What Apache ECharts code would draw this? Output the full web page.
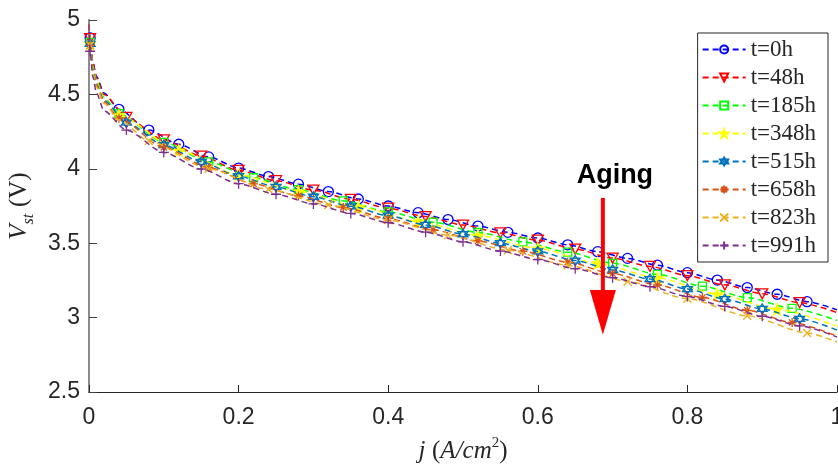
<!DOCTYPE html>
<html><head><meta charset="utf-8">
<script src="https://cdn.jsdelivr.net/npm/echarts@6/dist/echarts.min.js"></script>
<style>html,body{margin:0;padding:0;background:#fff}#c{width:838px;height:464px}</style>
</head><body><div id="c"></div>
<script>
// ---------------- data ----------------
const xTicks = [0, 0.2, 0.4, 0.6, 0.8, 1];
const yTicks = [2.5, 3, 3.5, 4, 4.5, 5];
const seriesNames = ['t=0h','t=48h','t=185h','t=348h','t=515h','t=658h','t=823h','t=991h'];

const j_0h = [0,0.0015,0.005,0.01,0.02,0.04,0.08,0.12,0.16,0.20,0.24,0.28,0.32,0.36,0.40,0.44,0.48,0.52,0.56,0.60,0.64,0.68,0.72,0.76,0.80,0.84,0.88,0.92,0.96,1.0];
const v_0h = [4.97,4.88,4.72,4.62,4.51,4.40,4.26,4.165,4.08,4.005,3.948,3.897,3.847,3.797,3.750,3.705,3.659,3.615,3.573,3.535,3.489,3.443,3.398,3.352,3.302,3.252,3.202,3.157,3.107,3.052];

const j_48h = [0,0.0015,0.005,0.01,0.02,0.05,0.10,0.15,0.20,0.25,0.30,0.35,0.40,0.45,0.50,0.55,0.60,0.65,0.70,0.75,0.80,0.85,0.90,0.95,1.0];
const v_48h = [4.97,4.875,4.71,4.61,4.50,4.345,4.195,4.085,3.99,3.92,3.857,3.795,3.735,3.679,3.622,3.569,3.52,3.46,3.40,3.344,3.282,3.22,3.16,3.10,3.034];

const j_185h = [0,0.0015,0.005,0.01,0.02,0.04,0.10,0.16,0.22,0.28,0.34,0.40,0.46,0.52,0.58,0.64,0.70,0.76,0.82,0.88,0.94,1.0];
const v_185h = [4.97,4.85,4.69,4.59,4.48,4.37,4.178,4.046,3.94,3.86,3.784,3.71,3.641,3.572,3.509,3.44,3.365,3.291,3.211,3.134,3.062,2.98];

const j_348h = [0,0.0015,0.005,0.01,0.02,0.04,0.12,0.20,0.28,0.36,0.44,0.52,0.60,0.68,0.76,0.84,0.92,1.0];
const v_348h = [4.97,4.84,4.68,4.58,4.47,4.36,4.123,3.96,3.848,3.744,3.647,3.551,3.465,3.365,3.266,3.158,3.055,2.942];

const j_515h = [0,0.0015,0.005,0.01,0.02,0.05,0.10,0.15,0.20,0.25,0.30,0.35,0.40,0.45,0.50,0.55,0.60,0.65,0.70,0.75,0.80,0.85,0.90,0.95,1.0];
const v_515h = [4.97,4.84,4.67,4.57,4.46,4.31,4.159,4.047,3.95,3.878,3.812,3.748,3.685,3.623,3.56,3.50,3.445,3.383,3.32,3.259,3.192,3.124,3.058,2.992,2.917];

const j_658h = [0,0.0015,0.005,0.01,0.02,0.04,0.10,0.16,0.22,0.28,0.34,0.40,0.46,0.52,0.58,0.64,0.70,0.76,0.82,0.88,0.94,1.0];
const v_658h = [4.97,4.83,4.66,4.56,4.45,4.34,4.144,4.008,3.899,3.818,3.74,3.665,3.59,3.515,3.446,3.373,3.295,3.219,3.135,3.049,2.967,2.875];

const j_823h = [0,0.0015,0.005,0.01,0.02,0.04,0.08,0.16,0.24,0.32,0.40,0.48,0.56,0.64,0.72,0.80,0.88,0.96,1.0];
const v_823h = [4.97,4.83,4.65,4.55,4.44,4.33,4.187,4.00,3.861,3.757,3.655,3.554,3.453,3.352,3.243,3.127,3.012,2.897,2.835];

const j_991h = [0,0.0015,0.005,0.01,0.02,0.05,0.10,0.15,0.20,0.25,0.30,0.35,0.40,0.45,0.50,0.55,0.60,0.65,0.70,0.75,0.80,0.85,0.90,0.95,1.0];
const v_991h = [4.97,4.79,4.62,4.51,4.39,4.26,4.11,3.998,3.90,3.829,3.764,3.70,3.638,3.574,3.509,3.447,3.39,3.329,3.268,3.208,3.142,3.075,3.009,2.944,2.87];

const seriesJ = [j_0h, j_48h, j_185h, j_348h, j_515h, j_658h, j_823h, j_991h];
const seriesV = [v_0h, v_48h, v_185h, v_348h, v_515h, v_658h, v_823h, v_991h];

// annotation (arrow) in data coordinates
const arrowJ = 0.687;
const arrowTopV = 3.804, arrowHeadV = 3.185, arrowTipV = 2.885;
const agingLabel = 'Aging';

// ---------------- styles ----------------
const STAR = 'path://M10,0L12.245,6.91L19.51,6.91L13.633,11.18L15.88,18.09L10,13.82L4.12,18.09L6.367,11.18L0.49,6.91L7.755,6.91Z';
const HEX = 'path://M10,0L18.66,15L1.34,15ZM10,20L1.34,5L18.66,5Z';
const AST = 'path://M10,0L10,20M0,10L20,10M3,3L17,17M17,3L3,17';
const XMK = 'path://M0,0L20,20M20,0L0,20';
const PLUS = 'path://M10,0L10,20M0,10L20,10';
const TRI = 'path://M0,0L20,0L10,17Z';
const styles = [
  {color:'#0000FF', symbol:'circle', size:10, fill:false, start:0.04, step:0.04},
  {color:'#FF0000', symbol:TRI, size:[11,10], fill:false, start:0.05, step:0.05},
  {color:'#00FF00', symbol:'rect', size:8, fill:false, start:0.04, step:0.06},
  {color:'#FFFF00', symbol:STAR, size:11, fill:true, start:0.04, step:0.08},
  {color:'#0072BD', symbol:HEX, size:10, fill:false, start:0.05, step:0.05},
  {color:'#D95319', symbol:AST, size:9, fill:false, start:0.04, step:0.06},
  {color:'#EDB120', symbol:XMK, size:8, fill:false, start:0.08, step:0.08},
  {color:'#7E2F8E', symbol:PLUS, size:10, fill:false, start:0.05, step:0.05}
];
function isMark(j, s) {
  if (Math.abs(j - 0.0015) < 1e-9) return true;
  if (j < s.start - 1e-9 || j > 0.999) return false;
  const k = (j - s.start) / s.step;
  return Math.abs(k - Math.round(k)) < 1e-6;
}

const series = seriesNames.map((name, i) => {
  const s = styles[i];
  const data = seriesJ[i].map((x, k) => {
    const item = {value: [x, seriesV[i][k]]};
    if (!isMark(x, s)) item.symbol = 'none';
    return item;
  });
  return {
    name, type: 'line', data,
    symbol: s.symbol, symbolSize: s.size, showAllSymbol: true,
    smooth: 0.25, smoothMonotone: 'x',
    lineStyle: {color: s.color, width: 1.5, type: [6, 4]},
    itemStyle: {color: s.fill ? s.color : 'rgba(0,0,0,0)', borderColor: s.color, borderWidth: 1.3},
    emphasis: {disabled: true},
    z: 2 + i
  };
});

const chart = echarts.init(document.getElementById('c'), null, {renderer: 'canvas'});
const sans = 'Liberation Sans, Arial, Helvetica, sans-serif';
const serif = 'Liberation Serif, Times New Roman, serif';
chart.setOption({
  animation: false,
  backgroundColor: '#fff',
  grid: {left: 89, right: 1, top: 20, bottom: 72, containLabel: false, outerBoundsMode: 'none'},
  xAxis: {
    type: 'value', min: xTicks[0], max: xTicks[xTicks.length-1], interval: 0.2,
    axisLine: {show: true, onZero: false, lineStyle: {color: '#262626', width: 1}},
    axisTick: {show: true, inside: true, length: 7, lineStyle: {color: '#262626'}},
    splitLine: {show: false},
    axisLabel: {fontFamily: sans, fontSize: 23, color: '#262626', margin: 14, showMaxLabel: true},
    name: '{i|j}  {r|(}{i|A/cm}{s|2}{r|)}',
    nameLocation: 'middle', nameGap: 44,
    nameTextStyle: {
      rich: {
        i: {fontFamily: serif, fontStyle: 'italic', fontSize: 25, color: '#262626', lineHeight: 28, verticalAlign: 'bottom'},
        r: {fontFamily: serif, fontSize: 25, color: '#262626', lineHeight: 28, verticalAlign: 'bottom'},
        s: {fontFamily: serif, fontSize: 15, color: '#262626', lineHeight: 15, verticalAlign: 'top'}
      }
    }
  },
  yAxis: {
    type: 'value', min: yTicks[0], max: yTicks[yTicks.length-1], interval: 0.5,
    axisLine: {show: true, onZero: false, lineStyle: {color: '#8c8c8c', width: 2}},
    axisTick: {show: true, inside: true, length: 8, lineStyle: {color: '#404040'}},
    splitLine: {show: false},
    axisLabel: {fontFamily: sans, fontSize: 23, color: '#262626', margin: 9},
    name: '{i|V}{s|st}  {r|(V)}',
    nameLocation: 'middle', nameGap: 49,
    nameTextStyle: {
      rich: {
        i: {fontFamily: serif, fontStyle: 'italic', fontSize: 25, color: '#262626', lineHeight: 30, verticalAlign: 'top'},
        r: {fontFamily: serif, fontSize: 25, color: '#262626', lineHeight: 30, verticalAlign: 'top'},
        s: {fontFamily: serif, fontStyle: 'italic', fontSize: 16, color: '#262626', lineHeight: 16, verticalAlign: 'bottom'}
      }
    }
  },
  legend: {
    orient: 'vertical', right: 10, top: 33,
    itemWidth: 43, itemHeight: 10, itemGap: 5,
    padding: [5, 12, 5, 4],
    borderColor: '#262626', borderWidth: 1, backgroundColor: '#fff',
    textStyle: {fontFamily: serif, fontSize: 23, color: '#262626', lineHeight: 22},
    data: seriesNames
  },
  series
});

function drawArrow() {
  const top = chart.convertToPixel({gridIndex: 0}, [arrowJ, arrowTopV]);
  const head = chart.convertToPixel({gridIndex: 0}, [arrowJ, arrowHeadV]);
  const tip = chart.convertToPixel({gridIndex: 0}, [arrowJ, arrowTipV]);
  chart.setOption({
    graphic: [
      {type: 'rect', z: 50, shape: {x: top[0] - 2, y: top[1], width: 4, height: head[1] - top[1] + 2}, style: {fill: '#FF0000'}},
      {type: 'polygon', z: 50, shape: {points: [[head[0] - 13, head[1]], [head[0] + 13, head[1]], [tip[0], tip[1]]]}, style: {fill: '#FF0000'}},
      {type: 'text', z: 50, x: top[0] + 12, y: top[1] - 22, style: {text: agingLabel, fontFamily: sans, fontWeight: 'bold', fontSize: 27, fill: '#000', align: 'center', verticalAlign: 'middle'}}
    ]
  });
}
drawArrow();
</script>
</body></html>
